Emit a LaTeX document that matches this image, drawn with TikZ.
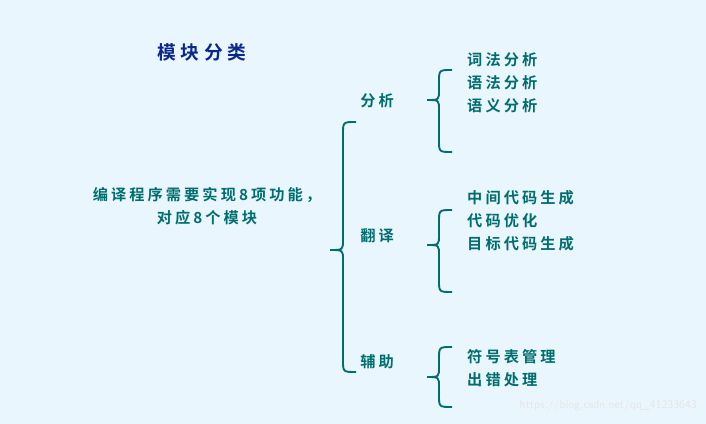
\documentclass[tikz,border=0pt]{standalone}
\usepackage{fontspec}
\newfontfamily\cjk[LetterSpace=20]{Noto Sans CJK SC Bold}
\newfontfamily\cjkt[LetterSpace=25]{Noto Sans CJK SC Bold}
\definecolor{bg}{RGB}{234,246,253}
\definecolor{tealc}{RGB}{0,110,110}
\definecolor{titlec}{RGB}{10,40,140}
\begin{document}
\begin{tikzpicture}[x=0.03cm,y=-0.03cm,
  txt/.style={font=\cjk\fontsize{13}{15}\selectfont, text=tealc, inner sep=0pt},
  item/.style={txt, anchor=west},
  br/.style={draw=tealc, line width=1.6pt}]
\fill[bg] (0,0) rectangle (706,424);
\useasboundingbox (0,0) rectangle (706,424);
\node[txt, text=titlec, font=\cjkt\fontsize{16}{18}\selectfont] (title) at (202,52) {模块分类};
\node[txt, align=center, font=\cjk\fontsize{13}{19.5}\selectfont] (main) at (207,206) {编译程序需要实现8项功能，\\对应8个模块};
\newcommand{\mybrace}[5]{%
  \draw[br] (#3,#4) .. controls (#2,#4) and (#2,#4) .. (#2,#4+12) -- (#2,#5-10) .. controls (#2,#5) and (#2,#5) .. (#1,#5)
    .. controls (#2,#5) and (#2,#5) .. (#2,#5+10) -- (#2,\bbot-12) .. controls (#2,\bbot) and (#2,\bbot) .. (#3,\bbot);}
\def\bbot{372}\mybrace{330}{343}{356}{122}{250}
\def\bbot{152}\mybrace{427}{439}{452}{70}{100}
\def\bbot{292}\mybrace{427}{439}{452}{210}{245}
\def\bbot{407}\mybrace{427}{439}{452}{347}{377}
\node[txt] (a) at (377,101) {分析};
\node[txt] (b) at (377,236) {翻译};
\node[txt] (c) at (377,362) {辅助};
\node[item] (a1) at (467,60) {词法分析};
\node[item] (a2) at (467,83) {语法分析};
\node[item] (a3) at (467,106) {语义分析};
\node[item] (b1) at (467,198) {中间代码生成};
\node[item] (b2) at (467,221) {代码优化};
\node[item] (b3) at (467,244) {目标代码生成};
\node[item] (c1) at (467,357) {符号表管理};
\node[item] (c2) at (467,380) {出错处理};
\node[anchor=east, inner sep=0pt, text=white!80!gray, font=\sffamily\fontsize{10}{12}\selectfont] (wm) at (697,406) {https://blog.csdn.net/qq\_41233643};
\end{tikzpicture}
\end{document}
